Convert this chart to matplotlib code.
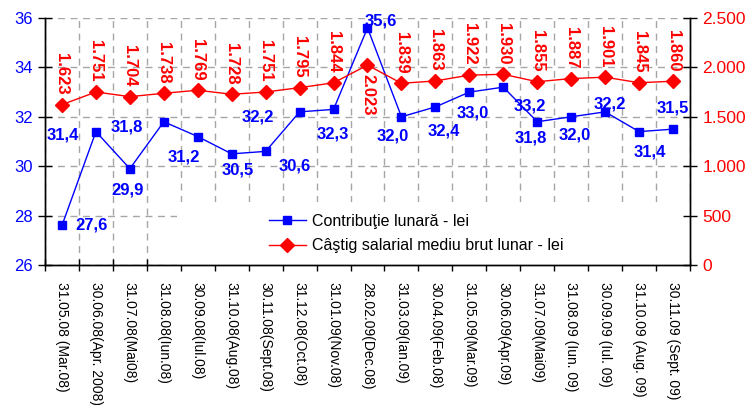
import numpy as np
import matplotlib
matplotlib.use("Agg")
import matplotlib.pyplot as plt
from matplotlib.patches import Rectangle
from matplotlib.ticker import FuncFormatter, FixedLocator

plt.rcParams.update({
    "font.family": ["Liberation Sans", "DejaVu Sans"],
    "axes.linewidth": 1.0,
})

categories = [
    "31.05.08 (Mar.08)", "30.06.08(Apr. 2008)", "31.07.08(Mai08)", "31.08.08(Iun.08)",
    "30.09.08(Iul.08)", "31.10.08(Aug.08)", "30.11.08(Sept.08)", "31.12.08(Oct.08)",
    "31.01.09(Nov.08)", "28.02.09(Dec.08)", "31.03.09(Ian.09)", "30.04.09(Feb.08)",
    "31.05.09(Mar.09)", "30.06.09(Apr.09)", "31.07.09(Mai09)", "31.08.09 (Iun. 09)",
    "30.09.09 (Iul. 09)", "31.10.09 (Aug. 09)", "30.11.09 (Sept. 09)",
]
contributie = [27.6, 31.4, 29.9, 31.8, 31.2, 30.5, 30.6, 32.2, 32.3, 35.6,
               32.0, 32.4, 33.0, 33.2, 31.8, 32.0, 32.2, 31.4, 31.5]
castig = [1623, 1751, 1704, 1738, 1769, 1728, 1751, 1795, 1844, 2023,
          1839, 1863, 1922, 1930, 1855, 1887, 1901, 1845, 1860]

# label offsets in pixels (dx, dy) for the blue values, as placed in the original
blue_off = [(30, 0), (-33, -3), (-2, -21), (-37, -5), (-14, -20), (6, -16), (29, -15),
            (-42, -5), (-1, -25), (13, 7), (-9, -19), (8, -24), (3, -21), (27, -19),
            (-6, -16), (4, -18), (5, 8), (11, -20), (0, 21)]

BLUE = "#0000ff"
RED = "#ff0000"
GRID = "#a6a6a6"

fig = plt.figure(figsize=(7.49, 4.05), dpi=100)
ax = fig.add_axes([45 / 749, 140 / 405, 645 / 749, 247 / 405])
ax2 = ax.twinx()

x = np.arange(len(categories))
ax.set_xlim(-0.5, len(categories) - 0.5)
ax.set_ylim(26, 36)
ax2.set_ylim(0, 2500)

# category axis: labels at centres, tick marks + grid on boundaries
ax.xaxis.set_minor_locator(FixedLocator(np.arange(-0.5, len(categories), 1.0)))
ax.set_xticks(x)
ax.set_xticklabels(categories, rotation=-90, ha="center", va="top", fontsize=10)
ax.tick_params(axis="x", which="major", length=0, pad=12)
ax.tick_params(axis="x", which="minor", direction="inout", length=9, width=1)
ax.grid(True, axis="x", which="minor", color=GRID, ls=(0, (5, 4)), lw=1)
ax.set_yticks(np.arange(26, 37, 2))
ax.grid(True, axis="y", which="major", color=GRID, ls=(0, (5, 4)), lw=1)
ax.tick_params(axis="y", direction="inout", length=10, width=1, labelsize=12,
               labelcolor=BLUE, pad=4)
ax.spines["top"].set_visible(False)
ax2.spines["top"].set_visible(False)

ax2.set_yticks(np.arange(0, 2501, 500))
ax2.yaxis.set_major_formatter(FuncFormatter(lambda v, p: f"{int(v):,}".replace(",", ".")))
ax2.tick_params(axis="y", direction="inout", length=10, width=1, labelsize=12.5,
                labelcolor=RED, pad=4)

# white area behind the legend hides the grid
ax.add_patch(Rectangle((0.205, 0.0), 0.795, 0.255, transform=ax.transAxes,
                       facecolor="white", edgecolor="none", zorder=1.6))

l_blue, = ax.plot(x, contributie, color=BLUE, lw=1, marker="s", ms=5.5,
                  label="Contribuţie lunară - lei", zorder=3)
l_red, = ax2.plot(x, castig, color=RED, lw=1, marker="D", ms=7.5,
                  label="Câştig salarial mediu brut lunar - lei", zorder=3)

for xi, v, (dx, dy) in zip(x, contributie, blue_off):
    ax.annotate(f"{v:.1f}".replace(".", ","), (xi, v),
                xytext=(dx, dy), textcoords="offset pixels", ha="center", va="center",
                color=BLUE, fontsize=12, fontweight="bold", zorder=5)

for xi, v in zip(x, castig):
    below = v > 2000
    ax2.annotate(f"{v:,}".replace(",", "."), (xi, v),
                 xytext=(0, -9 if below else 10), textcoords="offset pixels",
                 ha="center", va="top" if below else "bottom", rotation=-90,
                 color=RED, fontsize=12, fontweight="bold", zorder=5)

ax2.legend(handles=[l_blue, l_red], loc="lower left",
           bbox_to_anchor=(0.325, -0.01), frameon=False, fontsize=11.5,
           handlelength=2.3, handletextpad=0.4, labelspacing=0.6)

fig.savefig("out.png", dpi=100)
